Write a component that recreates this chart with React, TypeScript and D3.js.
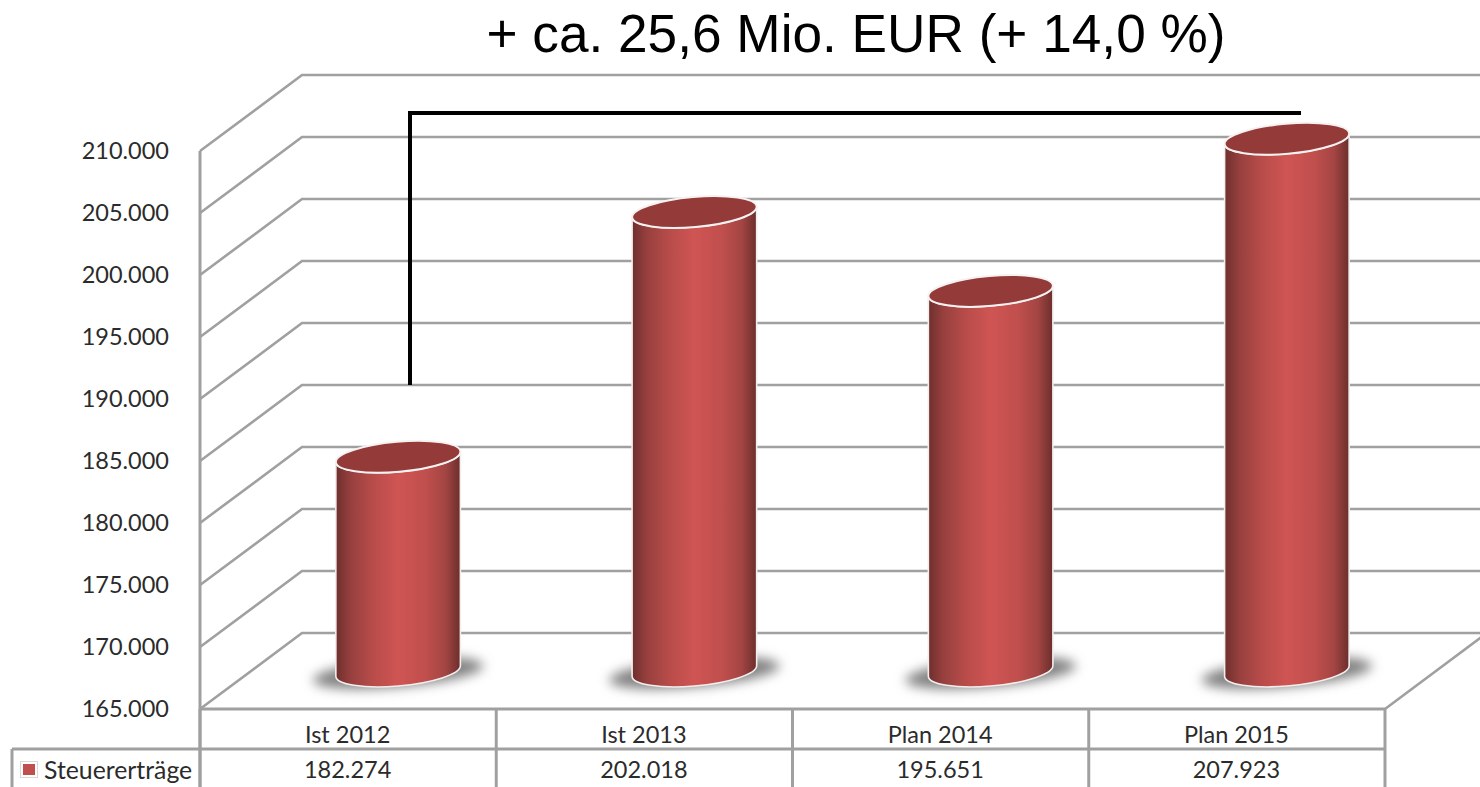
import React from 'react';
import {scaleBand, scaleLinear, formatLocale, path as d3path} from 'd3';

const categories = ['Ist 2012', 'Ist 2013', 'Plan 2014', 'Plan 2015'];
const values = [182274, 202018, 195651, 207923];
const yTicks = [165000, 170000, 175000, 180000, 185000, 190000, 195000, 200000, 205000, 210000];
const seriesName = 'Steuererträge';
const title = '+ ca. 25,6 Mio. EUR (+ 14,0 %)';

const width = 1480;
const height = 787;
const plot = {left: 200, right: 1385, top: 151, bottom: 709};
const depth = {x: 102, y: 76};
const tableRows = {mid: 749, bottom: 787, left: 12};
const cyl = {rx: 62.5, ry: 15, tilt: -5, shift: 50};
const gridColor = '#a0a0a0';
const labelFont = 'Lato, "Open Sans", sans-serif';
const textColor = '#2b2b2b';

const fmt = formatLocale({decimal: ',', thousands: '.', grouping: [3], currency: ['', ' €']}).format(',d');

const yScale = scaleLinear().domain([165000, 210000]).range([plot.bottom, plot.top]);
const xScale = scaleBand().domain(categories).range([plot.left, plot.right]);

const tiltRad = (cyl.tilt * Math.PI) / 180;
// angle where the tilted ellipse reaches its widest x, the sides of the body start there
const sideAngle = Math.atan2(-cyl.ry * Math.sin(tiltRad), cyl.rx * Math.cos(tiltRad));

function ellipsePoint(cx: number, cy: number, a: number) {
  const ex = cyl.rx * Math.cos(a);
  const ey = cyl.ry * Math.sin(a);
  return [cx + ex * Math.cos(tiltRad) - ey * Math.sin(tiltRad), cy + ex * Math.sin(tiltRad) + ey * Math.cos(tiltRad)];
}

function cylinderBody(cx: number, topY: number, baseY: number) {
  const p = d3path();
  const l = ellipsePoint(cx, topY, sideAngle + Math.PI);
  const r = ellipsePoint(cx, topY, sideAngle);
  const rb = ellipsePoint(cx, baseY, sideAngle);
  const lb = ellipsePoint(cx, baseY, sideAngle + Math.PI);
  p.moveTo(l[0], l[1]);
  p.lineTo(lb[0], lb[1]);
  // lower arc of the base, then the top is closed over by its own ellipse
  const arc = `A${cyl.rx} ${cyl.ry} ${cyl.tilt} 0 0 ${rb[0]} ${rb[1]}`;
  return `${p.toString()}${arc}L${r[0]} ${r[1]}A${cyl.rx} ${cyl.ry} ${cyl.tilt} 0 1 ${l[0]} ${l[1]}Z`;
}

function Cylinder({category, value}: {category: string; value: number}) {
  const cx = xScale(category)! + xScale.bandwidth() / 2 + cyl.shift;
  const topY = yScale(value) - depth.y / 2;
  const baseY = plot.bottom - depth.y / 2;
  return (
    <g>
      <ellipse
        cx={cx}
        cy={baseY + 2}
        rx={cyl.rx + 23}
        ry={cyl.ry - 1}
        transform={`rotate(${cyl.tilt} ${cx} ${baseY + 2})`}
        fill="#808080"
        filter="url(#shadowBlur)"
      />
      <path d={cylinderBody(cx, topY, baseY)} fill="url(#cylGrad)" stroke="#f2eeee" strokeWidth={1.6} />
      <ellipse
        cx={cx}
        cy={topY}
        rx={cyl.rx}
        ry={cyl.ry}
        transform={`rotate(${cyl.tilt} ${cx} ${topY})`}
        fill="#943a38"
        stroke="#f6f2f2"
        strokeWidth={2}
      />
    </g>
  );
}

function App() {
  const bandEdges = [...categories.map((c) => xScale(c)!), plot.right];
  return (
    <svg
      width={width}
      height={height}
      style={{position: 'absolute', left: 0, top: 0, background: '#fff'}}
    >
      <defs>
        <linearGradient id="cylGrad" x1="0" x2="1" y1="0" y2="0">
          <stop offset="0" stopColor="#6e2f2d" />
          <stop offset="0.12" stopColor="#97403e" />
          <stop offset="0.3" stopColor="#b84c4a" />
          <stop offset="0.5" stopColor="#cf5553" />
          <stop offset="0.72" stopColor="#c04f4d" />
          <stop offset="0.88" stopColor="#a34543" />
          <stop offset="1" stopColor="#6b2e2c" />
        </linearGradient>
        <filter id="shadowBlur" x="-30%" y="-100%" width="160%" height="300%">
          <feGaussianBlur stdDeviation="6" />
        </filter>
      </defs>

      {/* walls */}
      {yTicks.map((t) => (
        <polyline
          key={t}
          points={`${plot.left},${yScale(t)} ${plot.left + depth.x},${yScale(t) - depth.y} ${width},${yScale(t) - depth.y}`}
          fill="none"
          stroke={gridColor}
          strokeWidth={2.6}
        />
      ))}
      <line x1={plot.right} y1={plot.bottom} x2={plot.right + depth.x} y2={plot.bottom - depth.y} stroke={gridColor} strokeWidth={2.6} />

      {/* bracket */}
      <polyline
        points={`410,385 410,113 1301,113`}
        fill="none"
        stroke="#000"
        strokeWidth={4}
      />

      {categories.map((c, i) => (
        <Cylinder key={c} category={c} value={values[i]} />
      ))}

      {/* y axis labels */}
      {yTicks.map((t) => (
        <text
          key={t}
          x={169}
          y={yScale(t)}
          dy="0.35em"
          textAnchor="end"
          fontFamily={labelFont}
          fontSize={23.5}
          fill={textColor}
        >
          {fmt(t)}
        </text>
      ))}

      {/* data table */}
      <g stroke={gridColor} strokeWidth={3} fill="none">
        <line x1={plot.left} y1={plot.top} x2={plot.left} y2={tableRows.bottom} />
        <line x1={plot.left} y1={plot.bottom} x2={plot.right} y2={plot.bottom} />
        <line x1={tableRows.left} y1={tableRows.mid} x2={plot.right} y2={tableRows.mid} />
        <line x1={tableRows.left} y1={tableRows.mid} x2={tableRows.left} y2={tableRows.bottom} />
        {bandEdges.map((x) => (
          <line key={x} x1={x} y1={plot.bottom} x2={x} y2={tableRows.bottom} />
        ))}
      </g>
      {categories.map((c, i) => (
        <g key={c} fontFamily={labelFont} fontSize={23.5} fill={textColor} textAnchor="middle">
          <text x={xScale(c)! + xScale.bandwidth() / 2 - 0.5} y={735} dy="0.35em">{c}</text>
          <text x={xScale(c)! + xScale.bandwidth() / 2 - 0.5} y={770} dy="0.35em">{fmt(values[i])}</text>
        </g>
      ))}

      {/* legend key */}
      <rect x={20.5} y={761.5} width={17} height={16} fill="#fff" stroke="#d9d9d9" />
      <rect x={23} y={764} width={12} height={11} fill="#c0504d" />
      <text x={44} y={770} dy="0.35em" fontFamily={labelFont} fontSize={24.8} fill={textColor}>{seriesName}</text>

      <text
        x={856}
        y={52}
        textAnchor="middle"
        fontFamily='"Liberation Sans", Arial, sans-serif'
        fontSize={53.2}
        fill="#000"
      >
        {title}
      </text>
    </svg>
  );
}

export default App;
